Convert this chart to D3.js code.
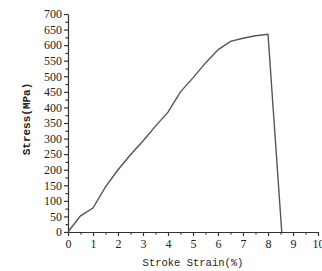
<!DOCTYPE html>
<html><head><meta charset="utf-8">
<script src="https://cdn.jsdelivr.net/npm/d3@7"></script>
<style>body{margin:0;background:#fff}svg{display:block}</style>
</head><body>
<svg id="c" width="322" height="271"></svg>
<script>
const strain = [0, 0.5, 1, 1.5, 2, 2.5, 3, 3.5, 4, 4.5, 5, 5.5, 6, 6.5, 7, 7.5, 8, 8.55];
const stress = [0, 52, 77, 145, 200, 248, 292, 340, 385, 450, 495, 543, 585, 612, 622, 630, 635, 0];
const xTicks = [0,1,2,3,4,5,6,7,8,9,10];
const yTicks = [0,50,100,150,200,250,300,350,400,450,500,550,600,650,700];
const xTitle = "Stroke Strain(%)";
const yTitle = "Stress(MPa)";

const svg = d3.select("#c");
const x = d3.scaleLinear().domain([0,10]).range([68,318]);
const y = d3.scaleLinear().domain([0,700]).range([232,14]);
const axCol = "#333";

svg.append("g").attr("transform","translate(0,232)")
  .call(d3.axisBottom(x).tickValues(d3.range(0.5,10,1)).tickSize(2.5).tickFormat(""))
  .call(g=>g.select(".domain").remove());
svg.append("g").attr("transform","translate(68,0)")
  .call(d3.axisLeft(y).tickValues(d3.range(25,700,50)).tickSize(2.5).tickFormat(""))
  .call(g=>g.select(".domain").remove());

const gx = svg.append("g").attr("transform","translate(0,232)")
  .call(d3.axisBottom(x).tickValues(xTicks).tickSize(4).tickSizeOuter(0).tickPadding(3));
const gy = svg.append("g").attr("transform","translate(68,0)")
  .call(d3.axisLeft(y).tickValues(yTicks).tickSize(4).tickSizeOuter(0).tickPadding(2));
[gx,gy].forEach(g=>{
  g.selectAll("text").attr("font-family","Liberation Serif, serif").attr("font-size",12).attr("fill","#222");
});
svg.selectAll(".domain, .tick line").attr("stroke",axCol).attr("stroke-width",1.2);

svg.append("path")
  .datum(strain.map((d,i)=>[d,stress[i]]))
  .attr("fill","none").attr("stroke","#555").attr("stroke-width",1.4)
  .attr("d", d3.line().x(d=>x(d[0])).y(d=>y(d[1])));

svg.append("text").attr("x",193).attr("y",266).attr("text-anchor","middle")
  .attr("font-family","Liberation Mono, monospace").attr("font-size",10.5).attr("fill","#222")
  .text(xTitle);
svg.append("text").attr("transform","translate(30,119) rotate(-90)").attr("text-anchor","middle")
  .attr("font-family","Liberation Mono, monospace").attr("font-size",11).attr("font-weight","bold").attr("fill","#222")
  .text(yTitle);
</script>
</body></html>
